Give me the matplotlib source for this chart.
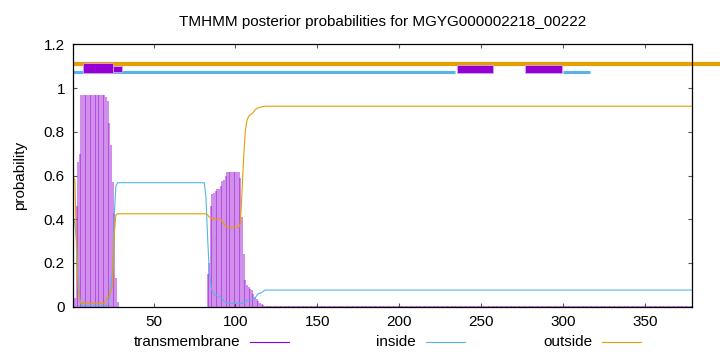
import numpy as np
import matplotlib
matplotlib.use("Agg")
import matplotlib.pyplot as plt
from matplotlib.lines import Line2D
from matplotlib.patches import Rectangle

plt.rcParams['font.family'] = ['Liberation Sans', 'DejaVu Sans']

# posterior probabilities per residue (1..379)
tm_prob = ([0.01, 0.04, 0.46, 0.66, 0.70] + [0.97] * 15 +
           [0.96, 0.94, 0.84, 0.74, 0.57, 0.43, 0.13, 0.02] + [0.0] * 54 +
           [0.149, 0.20, 0.46, 0.514, 0.52, 0.53, 0.537, 0.54, 0.55, 0.575, 0.58, 0.60] +
           [0.616] * 8 +
           [0.59, 0.41, 0.24, 0.12, 0.10, 0.09, 0.08, 0.076, 0.06, 0.046, 0.035, 0.027,
            0.015, 0.012, 0.01] + [0.005] * 262)

inside_prob = ([0.40, 0.38, 0.30, 0.14, 0.03] + [0.005] * 15 +
               [0.005, 0.01, 0.04, 0.10, 0.17, 0.42, 0.55, 0.567] + [0.567] * 53 +
               [0.50, 0.32, 0.17, 0.10, 0.065, 0.058, 0.052, 0.048, 0.045, 0.043, 0.035,
                0.025, 0.018] + [0.015] * 10 +
               [0.02, 0.025, 0.028, 0.03, 0.03, 0.032, 0.035, 0.04, 0.05, 0.06, 0.062,
                0.064, 0.07] + [0.076] * 262)

outside_prob = ([0.59, 0.58, 0.24, 0.08, 0.03] + [0.015] * 15 +
                [0.03, 0.042, 0.05, 0.073, 0.10, 0.33, 0.42, 0.425] + [0.425] * 54 +
                [0.42, 0.41, 0.407, 0.40, 0.40, 0.40, 0.40, 0.40, 0.40, 0.39, 0.38, 0.37,
                 0.365] + [0.362] * 7 +
                [0.38, 0.52, 0.68, 0.80, 0.85, 0.87, 0.878, 0.882, 0.89, 0.90, 0.906, 0.91,
                 0.912, 0.914, 0.916] + [0.917] * 262)

residues = np.arange(1, len(tm_prob) + 1)

# predicted topology drawn above the curves
outside_span = (1, 396)
inside_spans = [(1, 234.3), (300.2, 316.4)]
tm_boxes = [(7.1, 25.4, 1.070, 1.116), (25.4, 30.9, 1.075, 1.103),
            (235.1, 257.4, 1.067, 1.105), (277.0, 299.4, 1.067, 1.105)]

c_tm = '#9400d3'
c_in = '#56b4e9'
c_out = '#e69f00'
fs = 11

fig = plt.figure(figsize=(7.2, 3.52), dpi=100)
ax = fig.add_axes([0.1018, 0.1287, 0.8597, 0.7454])

ax.vlines(residues, 0, tm_prob, color=c_tm, lw=1.15, alpha=0.55)
ax.plot(residues, inside_prob, color=c_in, lw=0.8)
ax.plot(residues, outside_prob, color=c_out, lw=0.8)

ax.plot(outside_span, [1.111, 1.111], color=c_out, lw=3.0, clip_on=False,
        solid_capstyle='butt')
for a, b in inside_spans:
    ax.plot([a, b], [1.072, 1.072], color=c_in, lw=2.2, solid_capstyle='butt')
for a, b, y0, y1 in tm_boxes:
    ax.add_patch(Rectangle((a, y0), b - a, y1 - y0, facecolor=c_tm,
                           edgecolor='#d9a6f0', lw=0.6, zorder=3))

ax.set_xlim(1, len(tm_prob))
ax.set_ylim(0, 1.2)
ax.set_xticks([50, 100, 150, 200, 250, 300, 350])
ax.set_yticks([0, 0.2, 0.4, 0.6, 0.8, 1.0, 1.2])
ax.set_yticklabels(['0', '0.2', '0.4', '0.6', '0.8', '1', '1.2'])
ax.tick_params(direction='in', length=3, width=0.8, top=True, right=True,
               labelsize=fs, color='#555555', pad=6)
for s in ax.spines.values():
    s.set_linewidth(0.9)

ax.set_title('TMHMM posterior probabilities for MGYG000002218_00222',
             fontsize=fs, pad=13)
ax.set_ylabel('probability', fontsize=fs, labelpad=12)

# legend below the axis, gnuplot style: label then sample line
legend_items = [('transmembrane', c_tm, 240, 250, 289),
                ('inside', c_in, 416, 426, 465),
                ('outside', c_out, 592, 602, 641)]
ly = 1 - 342 / 352
for label, col, tx, x0, x1 in legend_items:
    fig.text(tx / 720, ly, label, ha='right', va='center', fontsize=fs)
    fig.add_artist(Line2D([x0 / 720, x1 / 720], [ly, ly], color=col, lw=0.8))

fig.savefig('out.png', dpi=100)
